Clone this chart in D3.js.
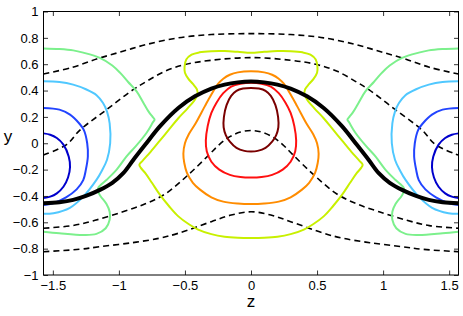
<!DOCTYPE html>
<html>
<head>
<meta charset="utf-8">
<script src="https://cdn.jsdelivr.net/npm/d3@7"></script>
<style>
  body { margin: 0; background: #fff; }
  svg { display: block; }
  text { font-family: "Liberation Sans", Arial, Helvetica, sans-serif; fill: #000; }
</style>
</head>
<body>
<div id="chart"></div>
<script>
// tick values and labels
var xTicks = [-1.5, -1, -0.5, 0, 0.5, 1, 1.5];
var xTickLabels = ["\u22121.5", "\u22121", "\u22120.5", "0", "0.5", "1", "1.5"];
var yTicks = [-1, -0.8, -0.6, -0.4, -0.2, 0, 0.2, 0.4, 0.6, 0.8, 1];
var yTickLabels = ["\u22121", "\u22120.8", "\u22120.6", "\u22120.4", "\u22120.2", "0", "0.2", "0.4", "0.6", "0.8", "1"];

// dashed lines [z, y]
var dash1 = [[-1.571,0.525],[-1.35,0.577],[-1.157,0.643],[-0.97,0.698],[-0.79,0.75],[-0.55,0.80],[-0.30,0.825],[0,0.832],
  [0.30,0.825],[0.55,0.80],[0.79,0.75],[0.97,0.698],[1.157,0.643],[1.35,0.577],[1.571,0.525]];
var dash2 = [[-1.571,-0.09],[-1.396,-0.01],[-1.295,0.10],[-1.093,0.255],[-0.892,0.407],[-0.79,0.47],[-0.652,0.546],[-0.5,0.597],[-0.3,0.63],[0,0.65],
  [0.3,0.63],[0.5,0.597],[0.652,0.546],[0.79,0.47],[0.892,0.407],[1.093,0.255],[1.295,0.10],[1.396,-0.01],[1.571,-0.09]];
var dash3 = [[-1.571,-0.645],[-1.35,-0.625],[-1.18,-0.585],[-0.97,-0.52],[-0.8,-0.46],[-0.65,-0.385],[-0.47,-0.235],[-0.32,-0.09],[-0.24,-0.01],[-0.16,0.05],[-0.08,0.085],[0,0.097],
  [0.08,0.085],[0.16,0.05],[0.24,-0.01],[0.32,-0.09],[0.47,-0.235],[0.65,-0.385],[0.8,-0.46],[0.97,-0.52],[1.18,-0.585],[1.35,-0.625],[1.571,-0.645]];
var dash4 = [[-1.571,-0.823],[-1.3,-0.805],[-1.144,-0.785],[-0.9,-0.755],[-0.69,-0.72],[-0.55,-0.683],[-0.3,-0.595],[-0.15,-0.545],[0,-0.52],
  [0.15,-0.545],[0.3,-0.595],[0.55,-0.683],[0.69,-0.72],[0.9,-0.755],[1.144,-0.785],[1.3,-0.805],[1.571,-0.823]];

// thick black line
var blackLine = [[-1.571,-0.455],[-1.45,-0.447],[-1.346,-0.43],[-1.25,-0.4],[-1.144,-0.354],[-1.05,-0.3],[-0.967,-0.227],[-0.89,-0.125],[-0.8,-0.01],[-0.69,0.128],[-0.55,0.268],[-0.424,0.356],[-0.3,0.415],[-0.2,0.445],[-0.1,0.462],[0,0.468],
  [0.1,0.462],[0.2,0.445],[0.3,0.415],[0.424,0.356],[0.55,0.268],[0.69,0.128],[0.8,-0.01],[0.89,-0.125],[0.967,-0.227],[1.05,-0.3],[1.144,-0.354],[1.25,-0.4],[1.346,-0.43],[1.45,-0.447],[1.571,-0.455]];

// open contours touching the side edges
var darkBlueL = [[-1.571,0.075],[-1.52,0.065],[-1.47,0.04],[-1.42,-0.01],[-1.38,-0.1],[-1.37,-0.18],[-1.385,-0.26],[-1.42,-0.33],[-1.47,-0.38],[-1.52,-0.405],[-1.571,-0.415]];
var darkBlueR = [[1.571,0.075],[1.52,0.065],[1.47,0.04],[1.42,-0.01],[1.38,-0.1],[1.37,-0.18],[1.385,-0.26],[1.42,-0.33],[1.47,-0.38],[1.52,-0.405],[1.571,-0.415]];
var blueL = [[-1.571,0.268],[-1.45,0.255],[-1.37,0.217],[-1.3,0.15],[-1.265,0.10],[-1.24,0.0],[-1.235,-0.1],[-1.25,-0.2],[-1.27,-0.28],[-1.32,-0.35],[-1.4,-0.41],[-1.5,-0.455],[-1.571,-0.468]];
var blueR = [[1.571,0.268],[1.45,0.255],[1.37,0.217],[1.3,0.15],[1.265,0.10],[1.24,0.0],[1.235,-0.1],[1.25,-0.2],[1.27,-0.28],[1.32,-0.35],[1.4,-0.41],[1.5,-0.455],[1.571,-0.468]];
var lightBlueL = [[-1.571,0.47],[-1.45,0.465],[-1.346,0.445],[-1.25,0.41],[-1.169,0.365],[-1.12,0.305],[-1.09,0.24],[-1.07,0.15],[-1.066,0.0],[-1.09,-0.125],[-1.13,-0.21],[-1.17,-0.278],[-1.27,-0.405],[-1.371,-0.49],[-1.495,-0.531],[-1.571,-0.536]];
var lightBlueR = [[1.571,0.47],[1.45,0.465],[1.346,0.445],[1.25,0.41],[1.169,0.365],[1.12,0.305],[1.09,0.24],[1.07,0.15],[1.066,0.0],[1.09,-0.125],[1.13,-0.21],[1.17,-0.278],[1.27,-0.405],[1.371,-0.49],[1.495,-0.531],[1.571,-0.536]];
var greenL = [[-1.571,0.72],[-1.45,0.715],[-1.346,0.705],[-1.27,0.688],[-1.144,0.648],[-1.05,0.59],[-0.99,0.534],[-0.93,0.465],[-0.866,0.394],[-0.816,0.31],[-0.775,0.24],[-0.745,0.2],[-0.73,0.18],[-0.745,0.155],[-0.79,0.08],[-0.87,-0.02],[-0.942,-0.1],[-1.017,-0.2],[-1.09,-0.275],[-1.155,-0.335],[-1.16,-0.36],[-1.14,-0.4],[-1.095,-0.46],[-1.07,-0.52],[-1.07,-0.58],[-1.1,-0.645],[-1.17,-0.688],[-1.27,-0.696],[-1.45,-0.683],[-1.571,-0.671]];
var greenR = [[1.571,0.72],[1.45,0.715],[1.346,0.705],[1.27,0.688],[1.144,0.648],[1.05,0.59],[0.99,0.534],[0.93,0.465],[0.866,0.394],[0.816,0.31],[0.775,0.24],[0.745,0.2],[0.73,0.18],[0.745,0.155],[0.79,0.08],[0.87,-0.02],[0.942,-0.1],[1.017,-0.2],[1.09,-0.275],[1.155,-0.335],[1.16,-0.36],[1.14,-0.4],[1.095,-0.46],[1.07,-0.52],[1.07,-0.58],[1.1,-0.645],[1.17,-0.688],[1.27,-0.696],[1.45,-0.683],[1.571,-0.671]];

// closed contours round the centre
var lime = [[0,0.686],[-0.1,0.694],[-0.2,0.70],[-0.3,0.699],[-0.39,0.69],[-0.45,0.672],[-0.49,0.635],[-0.503,0.58],[-0.5,0.535],[-0.475,0.49],[-0.44,0.45],[-0.41,0.41],[-0.405,0.375],[-0.425,0.33],[-0.48,0.265],[-0.55,0.19],[-0.62,0.105],[-0.69,0.02],[-0.76,-0.065],[-0.818,-0.13],[-0.845,-0.162],[-0.835,-0.185],[-0.8,-0.227],[-0.75,-0.3],[-0.69,-0.39],[-0.62,-0.478],[-0.55,-0.555],[-0.47,-0.615],[-0.4,-0.655],[-0.3,-0.69],[-0.2,-0.71],[-0.1,-0.718],[0,-0.72],
  [0.1,-0.718],[0.2,-0.71],[0.3,-0.69],[0.4,-0.655],[0.47,-0.615],[0.55,-0.555],[0.62,-0.478],[0.69,-0.39],[0.75,-0.3],[0.8,-0.227],[0.835,-0.185],[0.845,-0.162],[0.818,-0.13],[0.76,-0.065],[0.69,0.02],[0.62,0.105],[0.55,0.19],[0.48,0.265],[0.425,0.33],[0.405,0.375],[0.41,0.41],[0.44,0.45],[0.475,0.49],[0.5,0.535],[0.503,0.58],[0.49,0.635],[0.45,0.672],[0.39,0.69],[0.3,0.699],[0.2,0.70],[0.1,0.694]];
var orange = [[0,0.546],[-0.1,0.538],[-0.16,0.52],[-0.21,0.49],[-0.25,0.45],[-0.3,0.37],[-0.35,0.28],[-0.42,0.15],[-0.47,0.07],[-0.5,0.0],[-0.512,-0.08],[-0.505,-0.15],[-0.485,-0.225],[-0.44,-0.3],[-0.386,-0.352],[-0.3,-0.41],[-0.21,-0.443],[-0.1,-0.458],[0,-0.462],
  [0.1,-0.458],[0.21,-0.443],[0.3,-0.41],[0.386,-0.352],[0.44,-0.3],[0.485,-0.225],[0.505,-0.15],[0.512,-0.08],[0.5,0.0],[0.47,0.07],[0.42,0.15],[0.35,0.28],[0.3,0.37],[0.25,0.45],[0.21,0.49],[0.16,0.52],[0.1,0.538]];
var red = [[0,0.46],[-0.08,0.452],[-0.15,0.43],[-0.21,0.38],[-0.26,0.31],[-0.3,0.23],[-0.328,0.13],[-0.342,0.02],[-0.335,-0.06],[-0.3,-0.14],[-0.24,-0.2],[-0.16,-0.24],[-0.08,-0.256],[0,-0.26],
  [0.08,-0.256],[0.16,-0.24],[0.24,-0.2],[0.3,-0.14],[0.335,-0.06],[0.342,0.02],[0.328,0.13],[0.3,0.23],[0.26,0.31],[0.21,0.38],[0.15,0.43],[0.08,0.452]];
var darkRed = [[0,0.42],[-0.06,0.415],[-0.11,0.398],[-0.15,0.36],[-0.185,0.29],[-0.205,0.2],[-0.207,0.12],[-0.19,0.06],[-0.16,0.012],[-0.11,-0.035],[-0.05,-0.058],[0,-0.062],
  [0.05,-0.058],[0.11,-0.035],[0.16,0.012],[0.19,0.06],[0.207,0.12],[0.205,0.2],[0.185,0.29],[0.15,0.36],[0.11,0.398],[0.06,0.415]];

function main() {

var width = 463, height = 316;
var margin = {left: 43.5, right: 458.5, top: 11.5, bottom: 275};

var svg = d3.select("#chart").append("svg")
    .attr("width", width)
    .attr("height", height);

svg.append("rect").attr("width", width).attr("height", height).attr("fill", "#fff");

var x = d3.scaleLinear().domain([-Math.PI / 2, Math.PI / 2]).range([margin.left, margin.right]);
var y = d3.scaleLinear().domain([-1, 1]).range([margin.bottom, margin.top]);

svg.append("clipPath").attr("id", "clip")
  .append("rect")
    .attr("x", margin.left).attr("y", margin.top)
    .attr("width", margin.right - margin.left).attr("height", margin.bottom - margin.top);

var plot = svg.append("g").attr("clip-path", "url(#clip)");

var openLine = d3.line().x(d => x(d[0])).y(d => y(d[1])).curve(d3.curveCatmullRom.alpha(0.5));
var closedLine = d3.line().x(d => x(d[0])).y(d => y(d[1])).curve(d3.curveCatmullRomClosed.alpha(0.5));

// dashed streamlines
[dash1, dash2, dash3, dash4].forEach(function(d) {
  plot.append("path")
    .attr("d", openLine(d))
    .attr("fill", "none")
    .attr("stroke", "#000")
    .attr("stroke-width", 1.6)
    .attr("stroke-dasharray", "6,4");
});

var openContours = [
  {d: greenL, c: "#7cf08c"}, {d: greenR, c: "#7cf08c"},
  {d: lightBlueL, c: "#50c8ff"}, {d: lightBlueR, c: "#50c8ff"},
  {d: blueL, c: "#2244ff"}, {d: blueR, c: "#2244ff"},
  {d: darkBlueL, c: "#0000cc"}, {d: darkBlueR, c: "#0000cc"}
];
openContours.forEach(function(o) {
  plot.append("path")
    .attr("d", openLine(o.d))
    .attr("fill", "none")
    .attr("stroke", o.c)
    .attr("stroke-width", 2);
});

var closedContours = [
  {d: lime, c: "#c8f000"},
  {d: orange, c: "#ff8c00"},
  {d: red, c: "#ff1010"},
  {d: darkRed, c: "#7a0000"}
];
closedContours.forEach(function(o) {
  plot.append("path")
    .attr("d", closedLine(o.d))
    .attr("fill", "none")
    .attr("stroke", o.c)
    .attr("stroke-width", 2);
});

plot.append("path")
  .attr("d", openLine(blackLine))
  .attr("fill", "none")
  .attr("stroke", "#000")
  .attr("stroke-width", 4);

// axes, ticks inside the box
var fmtX = (d, i) => xTickLabels[i];
var fmtY = (d, i) => yTickLabels[i];

var gx = svg.append("g").attr("transform", "translate(0," + margin.bottom + ")")
  .call(d3.axisBottom(x).tickValues(xTicks).tickFormat(fmtX).tickSize(-4.5).tickPadding(6));
var gxt = svg.append("g").attr("transform", "translate(0," + margin.top + ")")
  .call(d3.axisTop(x).tickValues(xTicks).tickFormat("").tickSize(-4.5));
var gy = svg.append("g").attr("transform", "translate(" + margin.left + ",0)")
  .call(d3.axisLeft(y).tickValues(yTicks).tickFormat(fmtY).tickSize(-4.5).tickPadding(5));
var gyr = svg.append("g").attr("transform", "translate(" + margin.right + ",0)")
  .call(d3.axisRight(y).tickValues(yTicks).tickFormat("").tickSize(-4.5));

[gx, gxt, gy, gyr].forEach(function(g) {
  g.select(".domain").remove();
  g.selectAll("line").attr("stroke", "#000").attr("stroke-width", 0.8);
  g.selectAll("text").attr("font-size", 13).attr("fill", "#000")
    .attr("font-family", "'Liberation Sans', Arial, Helvetica, sans-serif");
});

svg.append("rect")
  .attr("x", margin.left).attr("y", margin.top)
  .attr("width", margin.right - margin.left).attr("height", margin.bottom - margin.top)
  .attr("fill", "none").attr("stroke", "#000").attr("stroke-width", 1);

svg.append("text").attr("x", 8).attr("y", 142)
  .attr("text-anchor", "middle").attr("font-size", 17).text("y");
svg.append("text").attr("x", x(0)).attr("y", 307)
  .attr("text-anchor", "middle").attr("font-size", 17).text("z");
}

main();
</script>
</body>
</html>
